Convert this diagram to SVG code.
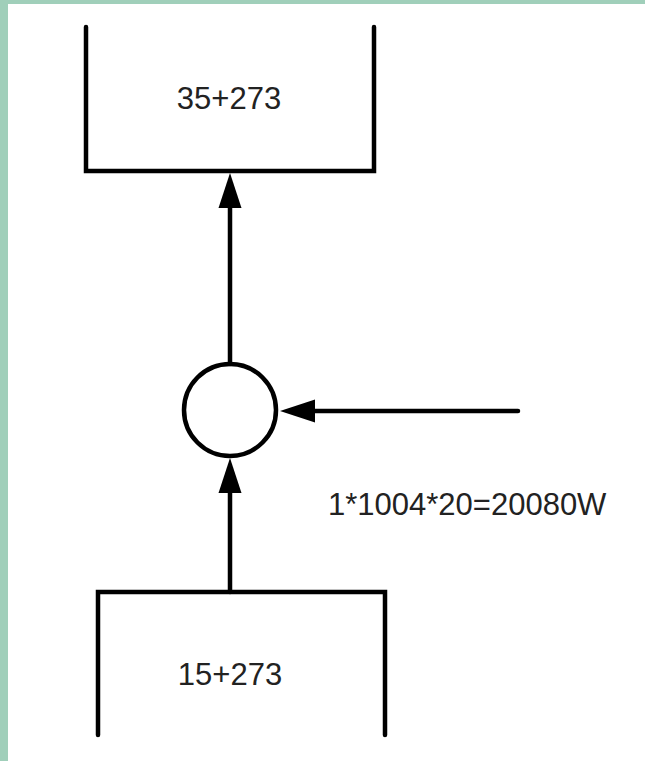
<svg xmlns="http://www.w3.org/2000/svg" width="645" height="761" viewBox="0 0 645 761">
<style>
.ln{stroke:#000;stroke-width:4.5;fill:none;stroke-linecap:round;stroke-linejoin:miter}
.ah{fill:#000;stroke:none}
.t{font-family:"Liberation Sans",Arial,sans-serif;font-size:31px;fill:#222}
</style>
<rect x="0" y="0" width="645" height="761" fill="#a0cfba"/>
<rect x="8" y="4" width="637" height="757" fill="#fff"/>
<g id="top-box">
<path class="ln" d="M86,27 V171 H374 V27"/>
<text class="t" x="229" y="109" text-anchor="middle">35+273</text>
</g>
<g id="bottom-box">
<path class="ln" d="M98,735 V592 H385 V735"/>
<text class="t" x="230" y="685" text-anchor="middle">15+273</text>
</g>
<g id="mixer">
<circle class="ln" cx="230" cy="410" r="46"/>
</g>
<g id="connectors">
<path class="ln" d="M230,364 V205"/>
<polygon class="ah" points="230,173 218.5,208 241.5,208"/>
<path class="ln" d="M230,592 V490"/>
<polygon class="ah" points="230,458 218.5,493 241.5,493"/>
<path class="ln" d="M518,411 H312"/>
<polygon class="ah" points="280,411 315,399.5 315,422.5"/>
</g>
<g id="label">
<text class="t" x="328" y="515">1*1004*20=20080W</text>
</g>
</svg>
